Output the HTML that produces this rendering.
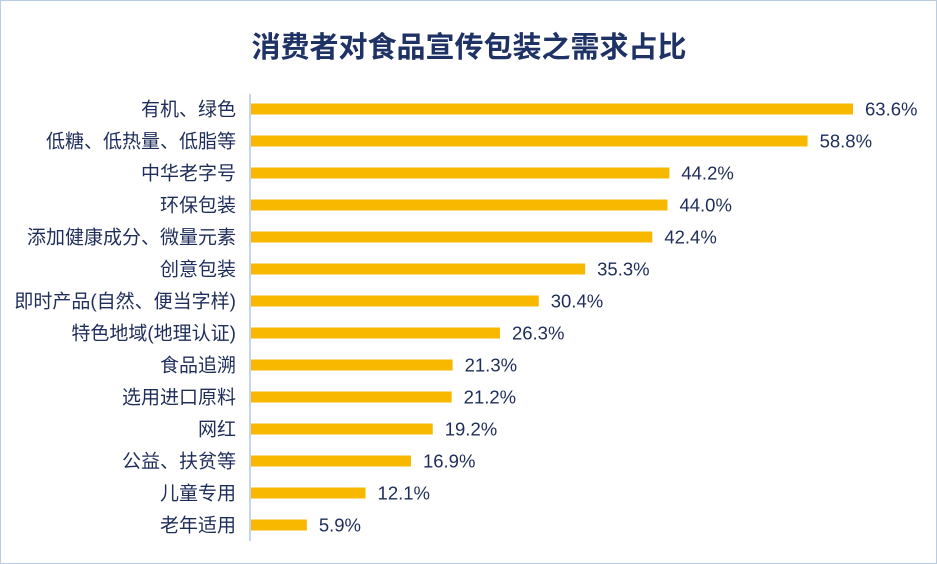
<!DOCTYPE html>
<html><head><meta charset="utf-8"><style>
html,body{margin:0;padding:0;background:#fff}
#wrap{position:relative;width:935px;height:562px;border:1px solid #b8cce4;overflow:hidden}
svg{position:absolute;left:0;top:0}
</style></head><body>
<div id="wrap">
<svg id="chart" width="937" height="564">
<text x="468" y="56" text-anchor="middle" font-family="'Liberation Sans','Noto Sans CJK SC',sans-serif" font-size="29" font-weight="bold" fill="#1f3265">消费者对食品宣传包装之需求占比</text>
<line x1="249" y1="93" x2="249" y2="540" stroke="#c5d5f0" stroke-width="2"/>
</svg>
</div>
<script>
const categories=["有机、绿色","低糖、低热量、低脂等","中华老字号","环保包装","添加健康成分、微量元素","创意包装","即时产品(自然、便当字样)","特色地域(地理认证)","食品追溯","选用进口原料","网红","公益、扶贫等","儿童专用","老年适用"];
const values=[63.6,58.8,44.2,44.0,42.4,35.3,30.4,26.3,21.3,21.2,19.2,16.9,12.1,5.9];
const valueLabels=["63.6%","58.8%","44.2%","44.0%","42.4%","35.3%","30.4%","26.3%","21.3%","21.2%","19.2%","16.9%","12.1%","5.9%"];
const svg=document.getElementById('chart');
const NS='http://www.w3.org/2000/svg';
const x0=250, pxPer=(852-250)/63.6;
const xScale=v=>x0+v*pxPer;
const yScale=i=>108+i*32;
const font="'Liberation Sans','Noto Sans CJK SC',sans-serif";
categories.forEach((c,i)=>{
  const cy=yScale(i);
  const r=document.createElementNS(NS,'rect');
  r.setAttribute('x',x0);r.setAttribute('y',cy-5.5);
  r.setAttribute('width',xScale(values[i])-x0);r.setAttribute('height',11);
  r.setAttribute('fill','#f9b800');
  
  
  svg.appendChild(r);
  const t=document.createElementNS(NS,'text');
  t.setAttribute('x',235);t.setAttribute('y',cy+6.5);
  t.setAttribute('text-anchor','end');t.setAttribute('font-family',font);
  t.setAttribute('font-size','19');t.setAttribute('fill','#1f2d5a');
  t.textContent=c;
  
  
  svg.appendChild(t);
  const v=document.createElementNS(NS,'text');
  v.setAttribute('x',xScale(values[i])+12);v.setAttribute('y',cy+6.5);
  v.setAttribute('font-family',font);
  v.setAttribute('font-size','18.5');v.setAttribute('fill','#1f2d5a');
  v.textContent=valueLabels[i];
  
  
  svg.appendChild(v);
});
</script>
</body></html>
